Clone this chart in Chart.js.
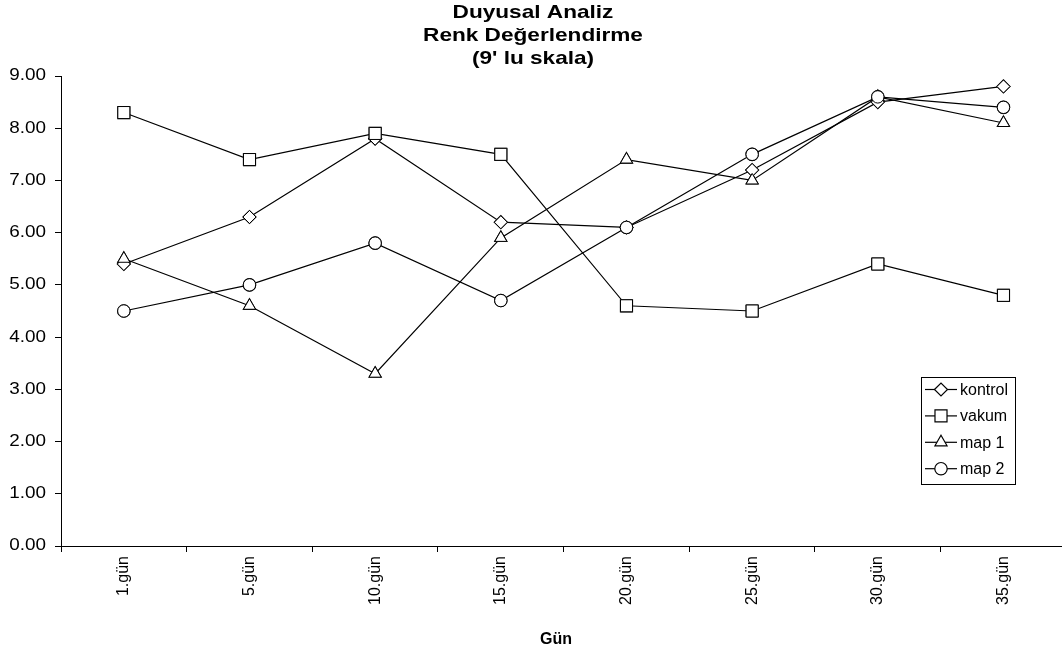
<!DOCTYPE html>
<html lang="tr">
<head>
  <meta charset="UTF-8">
  <title>Duyusal Analiz - Renk Değerlendirme</title>
  <script src="https://cdn.jsdelivr.net/npm/chart.js"></script>
  <style>
    html, body {
      margin: 0;
      padding: 0;
      background: #fff;
      overflow: hidden;
    }
  </style>
</head>
<body>
  <!-- x ekseni sağ kenardan taşıyor, bu yüzden tuval biraz geniş -->
  <canvas id="renkChart" width="1076" height="653"></canvas>

  <script>
    // Veriler
    const gunler = ['1.gün', '5.gün', '10.gün', '15.gün', '20.gün', '25.gün', '30.gün', '35.gün'];
    const kontrol = [5.4, 6.3, 7.8, 6.2, 6.1, 7.2, 8.5, 8.8];
    const vakum = [8.3, 7.4, 7.9, 7.5, 4.6, 4.5, 5.4, 4.8];
    const map1 = [5.5, 4.6, 3.3, 5.9, 7.4, 7.0, 8.6, 8.1];
    const map2 = [4.5, 5.0, 5.8, 4.7, 6.1, 7.5, 8.6, 8.4];
    const baslik = ['Duyusal Analiz', 'Renk Değerlendirme', "(9' lu skala)"];
    const xBaslik = 'Gün';

    const FONT = '"Liberation Sans", Arial, sans-serif';

    function seri(label, data, pointStyle, radius) {
      return {
        label: label,
        data: data,
        borderColor: '#000',
        borderWidth: 1.2,
        backgroundColor: '#fff',
        pointStyle: pointStyle,
        pointRadius: radius,
        pointHoverRadius: radius,
        pointBorderColor: '#000',
        pointBackgroundColor: 'rgba(0,0,0,0)',
        pointBorderWidth: 1.2,
        tension: 0,
        fill: false
      };
    }

    // Yatayda biraz geniş yazı (Excel görünümü)
    function genisYazi(ctx, text, x, y, sx) {
      ctx.save();
      ctx.translate(x, y);
      ctx.scale(sx, 1);
      ctx.fillText(text, 0, 0);
      ctx.restore();
    }

    // Başlık (üç satır) ve x ekseni başlığı
    const baslikPlugin = {
      id: 'baslik',
      afterDraw(chart) {
        const ctx = chart.ctx;
        ctx.save();
        ctx.fillStyle = '#000';
        ctx.font = 'bold 19px ' + FONT;
        ctx.textAlign = 'center';
        ctx.textBaseline = 'middle';
        baslik.forEach((satir, i) => genisYazi(ctx, satir, 533, 13 + i * 23, 1.19));
        ctx.font = 'bold 16px ' + FONT;
        ctx.fillText(xBaslik, 556, 640);
        ctx.restore();
      }
    };

    // y ekseni etiketleri
    const yEtiket = {
      id: 'yEtiket',
      afterDraw(chart) {
        const ctx = chart.ctx;
        const y = chart.scales.y;
        ctx.save();
        ctx.fillStyle = '#000';
        ctx.font = '16px ' + FONT;
        ctx.textAlign = 'right';
        ctx.textBaseline = 'middle';
        y.ticks.forEach(t => {
          genisYazi(ctx, t.value.toFixed(2), y.right - 15, y.getPixelForValue(t.value), 1.18);
        });
        ctx.restore();
      }
    };

    // Grafik alanı içindeki lejant kutusu
    const lejantPlugin = {
      id: 'lejant',
      afterDraw(chart) {
        const ctx = chart.ctx;
        const area = chart.chartArea;
        const x0 = area.left + 860;
        const y0 = area.top + 301;
        const w = 94, h = 107, satir = 26.4;
        ctx.save();
        ctx.fillStyle = '#fff';
        ctx.fillRect(x0, y0, w, h);
        ctx.strokeStyle = '#000';
        ctx.lineWidth = 1;
        ctx.strokeRect(x0 + 0.5, y0 + 0.5, w, h);
        ctx.font = '16px ' + FONT;
        ctx.textBaseline = 'middle';
        chart.data.datasets.forEach((ds, i) => {
          const y = y0 + 12.5 + i * satir;
          ctx.beginPath();
          ctx.lineWidth = 1.2;
          ctx.moveTo(x0 + 4, y);
          ctx.lineTo(x0 + 36, y);
          ctx.stroke();
          ctx.fillStyle = '#fff';
          Chart.helpers.drawPoint(ctx, {
            pointStyle: ds.pointStyle,
            radius: ds.pointRadius,
            borderWidth: 1.2
          }, x0 + 20, y);
          ctx.fillStyle = '#000';
          ctx.fillText(ds.label, x0 + 39, y + 1);
        });
        ctx.restore();
      }
    };

    // Nokta işaretçilerini beyaz dolgu ile çiz (çizgiler arkada kalsın)
    const beyazNokta = {
      id: 'beyazNokta',
      afterDatasetsDraw(chart) {
        const ctx = chart.ctx;
        ctx.save();
        chart.data.datasets.forEach((ds, i) => {
          const meta = chart.getDatasetMeta(i);
          meta.data.forEach(p => {
            ctx.fillStyle = '#fff';
            ctx.strokeStyle = '#000';
            Chart.helpers.drawPoint(ctx, {
              pointStyle: ds.pointStyle,
              radius: ds.pointRadius,
              borderWidth: 1.2
            }, p.x, p.y);
          });
        });
        ctx.restore();
      }
    };

    const ctx = document.getElementById('renkChart').getContext('2d');
    new Chart(ctx, {
      type: 'line',
      data: {
        labels: gunler,
        datasets: [
          seri('kontrol', kontrol, 'rectRot', 6.5),
          seri('vakum', vakum, 'rect', 8.5),
          seri('map 1', map1, 'triangle', 7),
          seri('map 2', map2, 'circle', 6.2)
        ]
      },
      options: {
        responsive: false,
        animation: false,
        layout: {
          padding: { top: 76, right: 0, bottom: 1, left: 0 }
        },
        plugins: {
          legend: { display: false },
          title: { display: false },
          tooltip: { enabled: false }
        },
        scales: {
          x: {
            offset: true,
            grid: {
              offset: true,
              drawOnChartArea: false,
              drawTicks: true,
              tickLength: 6,
              color: '#000'
            },
            border: { color: '#000', width: 1 },
            ticks: {
              minRotation: 90,
              maxRotation: 90,
              color: '#000',
              padding: 4,
              font: { family: FONT, size: 16 }
            },
            title: { display: false },
            afterFit(scale) {
              scale.height = 106;
              scale.paddingLeft = 0;
              scale.paddingRight = 0;
            }
          },
          y: {
            min: 0,
            max: 9,
            grid: {
              drawOnChartArea: false,
              drawTicks: true,
              tickLength: 6,
              color: '#000'
            },
            border: { color: '#000', width: 1 },
            ticks: {
              stepSize: 1,
              display: false
            },
            afterFit(scale) {
              scale.width = 61;
              scale.paddingTop = 0;
              scale.paddingBottom = 0;
            }
          }
        }
      },
      plugins: [beyazNokta, baslikPlugin, yEtiket, lejantPlugin]
    });
  </script>
</body>
</html>
